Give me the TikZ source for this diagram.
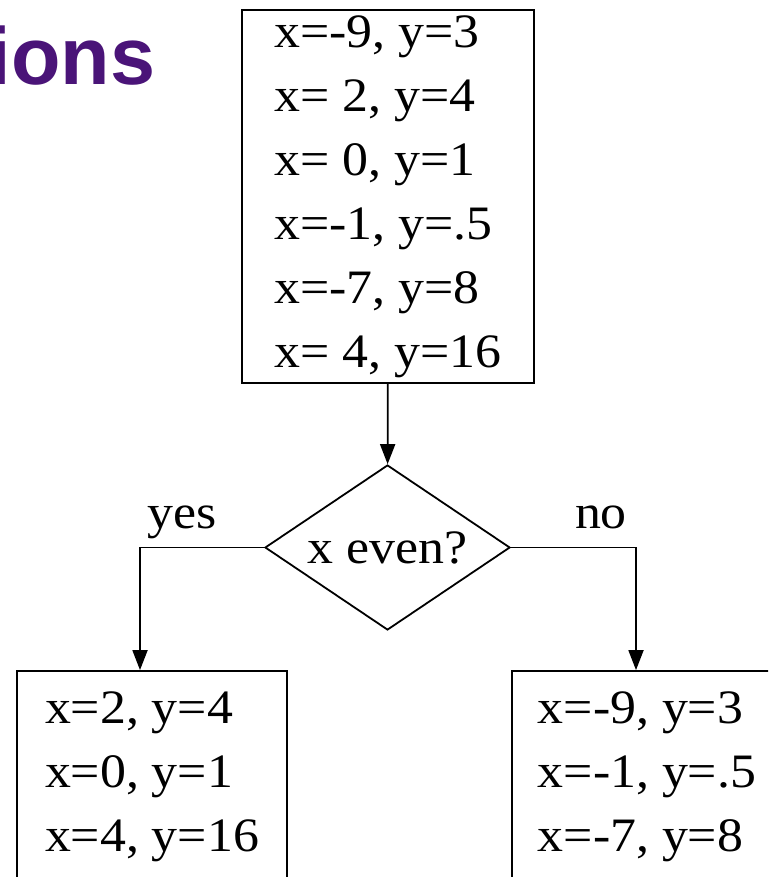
\documentclass[tikz,border=0pt]{standalone}
\usepackage{fontspec}
\setmainfont{Liberation Serif}[FakeStretch=1.08]
\newfontfamily\headfont{Liberation Sans}
\usetikzlibrary{shapes.geometric,arrows.meta}
\definecolor{deeppurple}{RGB}{74,20,120}

\begin{document}
\begin{tikzpicture}[x=1pt, y=-1pt, >={Triangle[width=15pt,length=20pt]}, line width=1.8pt,
    box/.style={draw,align=left,inner sep=0pt,font=\fontsize{48}{64}\selectfont},
    test/.style={draw,diamond,aspect=1.48,inner sep=0pt,minimum width=245pt,minimum height=165pt,font=\fontsize{48}{64}\selectfont},
    lbl/.style={anchor=base,yshift=19pt,font=\fontsize{48}{64}\selectfont}]

    \path[use as bounding box,clip] (0,0) rectangle (768,877);

    \node[anchor=base east,inner sep=0pt,text=deeppurple,font=\headfont\bfseries\fontsize{81}{90}\selectfont] (title) at (156,85) {ions};

    \node[box,minimum width=292pt,minimum height=373pt] (start) at (388,196.5)
        {x=-9, y=3\\x= 2, y=4\\x= 0, y=1\\x=-1, y=.5\\x=-7, y=8\\x= 4, y=16};
    \node[test] (parity) at (387.5,547.5) {x even?};
    \node[box,minimum width=270pt,minimum height=212pt] (even) at (152,777)
        {x=2, y=4\\x=0, y=1\\x=4, y=16};
    \node[box,minimum width=270pt,minimum height=212pt] (odd) at (647,777)
        {x=-9, y=3\\x=-1, y=.5\\x=-7, y=8};

    \draw[->] (start) -- (parity);
    \draw[->] (parity.west) -| node[lbl,pos=0.33]{yes} ([xshift=-12pt]even.north);
    \draw[->] (parity.east) -| node[lbl,pos=0.36]{no} ([xshift=-11pt]odd.north);
\end{tikzpicture}
\end{document}
